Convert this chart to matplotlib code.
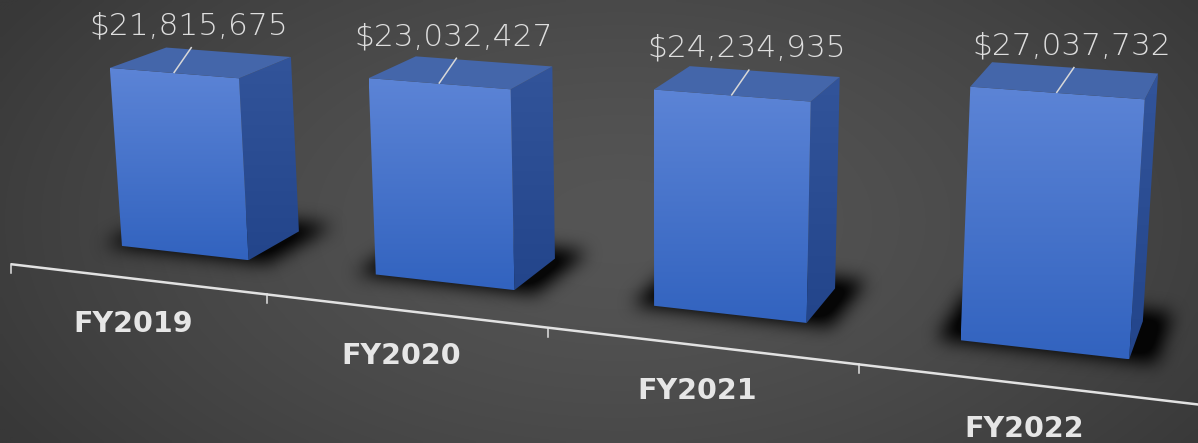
import numpy as np
import matplotlib
matplotlib.use("Agg")
import matplotlib.pyplot as plt
from matplotlib.patches import Polygon
from matplotlib.path import Path

categories = ["FY2019", "FY2020", "FY2021", "FY2022"]
values = [21815675, 23032427, 24234935, 27037732]

W_PX, H_PX = 1198, 443

# camera (fitted once to the reference view): world (x=category, y=depth, z=value in millions) -> pixels
CAM = np.array([
    [234.75949, 61.881733, -0.66027854, 63.145011],
    [16.303029, -17.61721, -8.1408316, 239.30998],
    [-0.043515202, 0.044128342, -0.00099846375, 1.0],
])
BAR_W = 0.51      # bar width, in category units
BAR_D = 1.0       # bar depth
AXIS_Y = -0.85    # depth of the category axis line (in front of bars)


def project(x, y, z):
    h = CAM @ np.array([x, y, z, 1.0])
    return h[0] / h[2], h[1] / h[2]


def grad_fill(ax, pts, c_top, c_bot, zorder):
    pts = np.array(pts)
    patch = Polygon(pts, closed=True, facecolor="none", edgecolor="none", zorder=zorder)
    ax.add_patch(patch)
    c0 = np.array(matplotlib.colors.to_rgb(c_top))
    c1 = np.array(matplotlib.colors.to_rgb(c_bot))
    t = np.linspace(0, 1, 64)[:, None]
    grad = (c0 * (1 - t) + c1 * t)[:, None, :]
    x0, x1 = pts[:, 0].min(), pts[:, 0].max()
    y0, y1 = pts[:, 1].min(), pts[:, 1].max()
    im = ax.imshow(grad, extent=(x0, x1, y1, y0), origin="upper", aspect="auto",
                   interpolation="bilinear", zorder=zorder)
    im.set_clip_path(patch)


def box_blur(a, r, axis):
    pad = [(0, 0), (0, 0)]
    pad[axis] = (r + 1, r)
    c = np.cumsum(np.pad(a, pad, mode="constant"), axis=axis)
    n = a.shape[axis]
    if axis == 0:
        return (c[2 * r + 1:2 * r + 1 + n] - c[:n]) / (2 * r + 1)
    return (c[:, 2 * r + 1:2 * r + 1 + n] - c[:, :n]) / (2 * r + 1)


def draw_background(ax):
    yy, xx = np.mgrid[0:H_PX:4, 0:W_PX:4]
    r = np.sqrt(((xx - 620) / 720.0) ** 2 + ((yy - 220) / 400.0) ** 2)
    r = np.clip(r, 0, 1)
    lo = np.array([0x55, 0x55, 0x55]) / 255.0
    hi = np.array([0x38, 0x38, 0x38]) / 255.0
    img = lo * (1 - r[..., None] ** 1.5) + hi * (r[..., None] ** 1.5)
    ax.imshow(img, extent=(0, W_PX, H_PX, 0), origin="upper", aspect="auto",
              interpolation="bilinear", zorder=0)


def draw_shadows(ax):
    yy, xx = np.mgrid[0:H_PX, 0:W_PX]
    grid = np.c_[xx.ravel() + 0.5, yy.ravel() + 0.5]
    mask = np.zeros(H_PX * W_PX)
    for i in range(len(values)):
        xl = i + 0.5 - BAR_W / 2 - 0.07
        xr = i + 0.5 + BAR_W / 2 + 0.08
        pts = [project(xl, -0.03, 0), project(xr, -0.03, 0),
               project(xr, BAR_D + 0.3, 0), project(xl, BAR_D + 0.3, 0)]
        mask = np.maximum(mask, Path(pts).contains_points(grid))
    mask = mask.reshape(H_PX, W_PX).astype(float)
    for _ in range(3):
        mask = box_blur(mask, 8, 0)
        mask = box_blur(mask, 8, 1)
    rgba = np.zeros((H_PX, W_PX, 4))
    rgba[..., 3] = np.clip(mask * 1.1, 0, 0.92)
    ax.imshow(rgba, extent=(0, W_PX, H_PX, 0), origin="upper", aspect="auto",
              interpolation="bilinear", zorder=2)


def draw_bar(ax, i, v):
    z = v / 1e6
    xl = i + 0.5 - BAR_W / 2
    xr = i + 0.5 + BAR_W / 2

    side = [project(xr, 0, z), project(xr, BAR_D, z), project(xr, BAR_D, 0), project(xr, 0, 0)]
    grad_fill(ax, side, "#32549a", "#23458b", zorder=3)

    front = [project(xl, 0, z), project(xr, 0, z), project(xr, 0, 0), project(xl, 0, 0)]
    grad_fill(ax, front, "#5c84d6", "#3263bf", zorder=4)

    top = [project(xl, 0, z), project(xr, 0, z), project(xr, BAR_D, z), project(xl, BAR_D, z)]
    ax.add_patch(Polygon(top, closed=True, facecolor="#4466aa", edgecolor="none", zorder=5))

    # leader line + value label
    sx, sy = project(i + 0.5, 0, z)
    ex, ey = sx + 18, sy - 26
    ax.plot([sx, ex], [sy, ey], color="#d8d8d8", lw=1.1, zorder=6, solid_capstyle="butt")
    ax.text(ex - 3, ey - 21, "${:,}".format(v), ha="center", va="center",
            color="#dedede", fontsize=22.5, fontweight="light", family="DejaVu Sans", zorder=7)


def draw_axis(ax):
    n = len(categories)
    x0, y0 = project(0, AXIS_Y, 0)
    x1, y1 = project(n + 0.3, AXIS_Y, 0)
    ax.plot([x0, x1], [y0, y1], color="#e2e2e2", lw=1.8, zorder=6, solid_capstyle="butt")
    for k in range(n + 1):
        tx, ty = project(k, AXIS_Y, 0)
        ax.plot([tx, tx], [ty, ty + 9], color="#e2e2e2", lw=1.1, zorder=6)
    for i, c in enumerate(categories):
        lx, ly = project(i + 0.5, AXIS_Y, 0)
        ax.text(lx - 3, ly + 45, c, ha="center", va="center", color="#e6e6e6",
                fontsize=20.5, fontweight="bold", family="DejaVu Sans", zorder=7)


def main():
    fig = plt.figure(figsize=(W_PX / 100.0, H_PX / 100.0), dpi=100)
    ax = fig.add_axes([0, 0, 1, 1])
    draw_background(ax)
    draw_shadows(ax)
    for i, v in enumerate(values):
        draw_bar(ax, i, v)
    draw_axis(ax)
    ax.set_xlim(0, W_PX)
    ax.set_ylim(H_PX, 0)
    ax.axis("off")
    fig.savefig("out.png", dpi=100)
    plt.close(fig)


if __name__ == '__main__':
    main()
